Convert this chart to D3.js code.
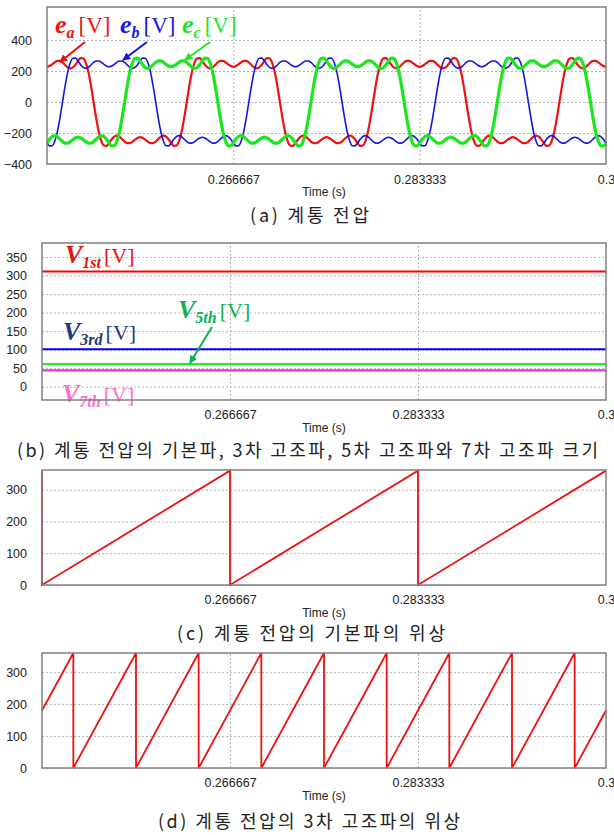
<!DOCTYPE html>
<html>
<head>
<meta charset="utf-8">
<script src="https://cdn.jsdelivr.net/npm/d3@7"></script>
<style>
body { margin: 0; background: #fff; }
svg { display: block; }
.tick text { font-family: "Liberation Sans", Arial, sans-serif; font-size: 12.5px; fill: #222; }
.grid line { stroke: #b4b4b4; stroke-dasharray: 2,2; }
.caption { font-family: "Noto Sans CJK KR", sans-serif; font-size: 18px; fill: #222; }
.tlabel { font-family: "Liberation Sans", Arial, sans-serif; font-size: 12px; fill: #222; }
.lbl { font-family: "Liberation Serif", "Times New Roman", serif; }
</style>
</head>
<body>
<svg id="chart" width="614" height="835"></svg>
<script>
// ---- data ----
var timeRange = [0.25, 0.3];
var xTickValues = [0.266667, 0.283333, 0.3];
var xTickLabels = ["0.266667", "0.283333", "0.3"];
var fundamentalHz = 60;

// (a) one cycle of e_a, every 5 deg
var cycleStep = 5;
var eaCycle = [227, 232, 243, 256, 265, 265, 255, 239, 224, 217, 223, 241, 265, 283, 282, 253, 193, 104,
	0, -104, -193, -253, -282, -283, -265, -241, -223, -217, -224, -239, -255, -265, -265, -256, -243, -232,
	-227, -232, -243, -256, -265, -265, -255, -239, -224, -217, -223, -241, -265, -283, -282, -253, -193, -104,
	0, 104, 193, 253, 282, 283, 265, 241, 223, 217, 224, 239, 255, 265, 265, 256, 243, 232];
var phaseNames = ["a", "b", "c"];
var phaseShift = [0, -120, 120];
var phaseColors = ["#f01010", "#1414e6", "#1ee61e"];
var phaseWidths = [2.2, 1.6, 3.2];
var yTicksA = [-400, -200, 0, 200, 400];

// (b) harmonic magnitudes
var harmonicNames = ["1st", "3rd", "5th", "7th"];
var harmonicMag = [311, 101, 61, 44];
var harmonicColors = ["#ff0000", "#0000f0", "#22ee22", "#e030e0"];
var yTicksB = [0, 50, 100, 150, 200, 250, 300, 350];

// (c) phase of fundamental
var phase1Time = [0.25, 0.25, 0.266667, 0.266667, 0.283333, 0.283333, 0.3];
var phase1Deg = [360, 0, 360, 0, 360, 0, 360];

// (d) phase of 3rd harmonic
var phase3Time = [0.25, 0.252778, 0.252778, 0.258333, 0.258333, 0.263889, 0.263889, 0.269444, 0.269444,
	0.275, 0.275, 0.280556, 0.280556, 0.286111, 0.286111, 0.291667, 0.291667, 0.297222, 0.297222, 0.3];
var phase3Deg = [180, 360, 0, 360, 0, 360, 0, 360, 0, 360, 0, 360, 0, 360, 0, 360, 0, 360, 0, 180];
var yTicksPhase = [0, 100, 200, 300];

var captions = ["(a) 계통 전압",
	"(b) 계통 전압의 기본파, 3차 고조파, 5차 고조파와 7차 고조파 크기",
	"(c) 계통 전압의 기본파의 위상",
	"(d) 계통 전압의 3차 고조파의 위상"];

// ---- layout ----
var svg = d3.select("#chart");
var layout = [
	{ top: 7, bottom: 164, left: 47, right: 606, ydom: [-400, 613], yticks: yTicksA, capX: 309.5, capW: 119, capY: 222 },
	{ top: 243, bottom: 400, left: 42, right: 606, ydom: [-36, 388], yticks: yTicksB, capX: 307.5, capW: 581, capY: 457 },
	{ top: 470, bottom: 585, left: 42, right: 606, ydom: [0, 362], yticks: yTicksPhase, capX: 311, capW: 268, capY: 640 },
	{ top: 653, bottom: 768, left: 42, right: 606, ydom: [0, 360], yticks: yTicksPhase, capX: 309, capW: 302, capY: 828 }
];

function makePanel(i) {
	var c = layout[i];
	var g = svg.append("g");
	var x = d3.scaleLinear().domain(timeRange).range([c.left, c.right]);
	var y = d3.scaleLinear().domain(c.ydom).range([c.bottom, c.top]);
	var h = c.bottom - c.top, w = c.right - c.left;

	// grid
	g.append("g").attr("class", "grid")
		.attr("transform", "translate(0," + c.bottom + ")")
		.call(d3.axisBottom(x).tickValues(xTickValues.slice(0, 2)).tickSize(-h).tickFormat(""))
		.call(function(s) { s.select(".domain").remove(); });
	g.append("g").attr("class", "grid")
		.attr("transform", "translate(" + c.left + ",0)")
		.call(d3.axisLeft(y).tickValues(c.yticks).tickSize(-w).tickFormat(""))
		.call(function(s) { s.select(".domain").remove(); });

	// tick labels
	g.append("g")
		.attr("transform", "translate(0," + c.bottom + ")")
		.call(d3.axisBottom(x).tickValues(xTickValues).tickSize(0).tickPadding(i == 0 ? 11 : 10)
			.tickFormat(function(d, k) { return xTickLabels[k]; }))
		.call(function(s) { s.select(".domain").remove(); });
	g.append("g")
		.attr("transform", "translate(" + c.left + ",0)")
		.call(d3.axisLeft(y).tickValues(c.yticks).tickSize(0).tickPadding(15))
		.call(function(s) { s.select(".domain").remove(); });

	g.append("text").attr("class", "tlabel")
		.attr("x", 324).attr("y", c.bottom + 32)
		.attr("text-anchor", "middle")
		.text("Time (s)");

	g.append("text").attr("class", "caption")
		.attr("x", c.capX).attr("y", c.capY)
		.attr("text-anchor", "middle")
		.attr("textLength", c.capW).attr("lengthAdjust", "spacing")
		.text(captions[i]);

	return { g: g, x: x, y: y, c: c };
}

function frame(p) {
	p.g.append("rect")
		.attr("x", p.c.left).attr("y", p.c.top)
		.attr("width", p.c.right - p.c.left).attr("height", p.c.bottom - p.c.top)
		.attr("fill", "none").attr("stroke", "#808080").attr("stroke-width", 1.5);
}

svg.append("defs").selectAll("marker")
	.data(["#f01010", "#1414e6", "#1ee61e", "#10b050"])
	.enter().append("marker")
	.attr("id", function(d, k) { return "arr" + k; })
	.attr("viewBox", "0 0 10 10").attr("refX", 9).attr("refY", 5)
	.attr("markerWidth", 4).attr("markerHeight", 4).attr("orient", "auto")
	.append("path").attr("d", "M0,0L10,5L0,10Z").attr("fill", function(d) { return d; });

// (a) system voltage
var pa = makePanel(0);
var nSamples = Math.round((timeRange[1] - timeRange[0]) * fundamentalHz * 360 / cycleStep);
var lineA = d3.line().x(function(d) { return pa.x(d.t); }).y(function(d) { return pa.y(d.v); }).curve(d3.curveMonotoneX);
phaseNames.forEach(function(name, s) {
	var off = phaseShift[s] / cycleStep;
	var pts = d3.range(nSamples + 1).map(function(k) {
		var idx = ((k + off) % eaCycle.length + eaCycle.length) % eaCycle.length;
		return { t: timeRange[0] + k * cycleStep / 360 / fundamentalHz, v: eaCycle[idx] };
	});
	pa.g.append("path").datum(pts)
		.attr("fill", "none").attr("stroke", phaseColors[s]).attr("stroke-width", phaseWidths[s])
		.attr("d", lineA);
});
frame(pa);

var labA = [{ x: 55, ax: [85, 42, 60, 62] }, { x: 120, ax: [147, 42, 123, 60] }, { x: 182, ax: [210, 42, 185, 60] }];
labA.forEach(function(l, s) {
	var t = pa.g.append("text").attr("class", "lbl").attr("x", l.x).attr("y", 33).attr("fill", phaseColors[s]);
	t.append("tspan").attr("font-size", 26).attr("font-weight", "bold").attr("font-style", "italic").text("e");
	t.append("tspan").attr("font-size", 16).attr("font-weight", "bold").attr("font-style", "italic").attr("dy", 5).text(phaseNames[s]);
	t.append("tspan").attr("font-size", 23).attr("dy", -5).attr("dx", 4).text("[V]");
	pa.g.append("line")
		.attr("x1", l.ax[0]).attr("y1", l.ax[1]).attr("x2", l.ax[2]).attr("y2", l.ax[3])
		.attr("stroke", phaseColors[s]).attr("stroke-width", 2)
		.attr("marker-end", "url(#arr" + s + ")");
});

// (b) harmonic magnitudes
var pb = makePanel(1);
harmonicMag.forEach(function(m, k) {
	pb.g.append("line")
		.attr("x1", pb.x(timeRange[0])).attr("x2", pb.x(timeRange[1]))
		.attr("y1", pb.y(m)).attr("y2", pb.y(m))
		.attr("stroke", harmonicColors[k]).attr("stroke-width", 2.2);
});
var labB = [
	{ x: 65, y: 263, col: "#e81010" },
	{ x: 63, y: 340, col: "#1f3a78" },
	{ x: 178, y: 318, col: "#10b050" },
	{ x: 62, y: 402, col: "#ff70cc" }
];
labB.forEach(function(l, k) {
	var t = pb.g.append("text").attr("class", "lbl").attr("x", l.x).attr("y", l.y).attr("fill", l.col);
	t.append("tspan").attr("font-size", 26).attr("font-weight", "bold").attr("font-style", "italic").text("V");
	t.append("tspan").attr("font-size", 16).attr("font-weight", "bold").attr("font-style", "italic").attr("dy", 5).text(harmonicNames[k]);
	t.append("tspan").attr("font-size", 22).attr("dy", -5).attr("dx", 3).text("[V]");
});
pb.g.append("line")
	.attr("x1", 212).attr("y1", 327).attr("x2", 190).attr("y2", 363)
	.attr("stroke", "#10b050").attr("stroke-width", 2)
	.attr("marker-end", "url(#arr3)");
frame(pb);

// (c), (d) phase sawtooth
function sawPanel(i, times, degs) {
	var p = makePanel(i);
	var pts = times.map(function(t, k) { return { t: t, v: degs[k] }; });
	p.g.append("path").datum(pts)
		.attr("fill", "none").attr("stroke", "#f01010").attr("stroke-width", 1.8)
		.attr("d", d3.line().x(function(d) { return p.x(d.t); }).y(function(d) { return p.y(d.v); }));
	frame(p);
}
sawPanel(2, phase1Time, phase1Deg);
sawPanel(3, phase3Time, phase3Deg);
</script>
</body>
</html>
